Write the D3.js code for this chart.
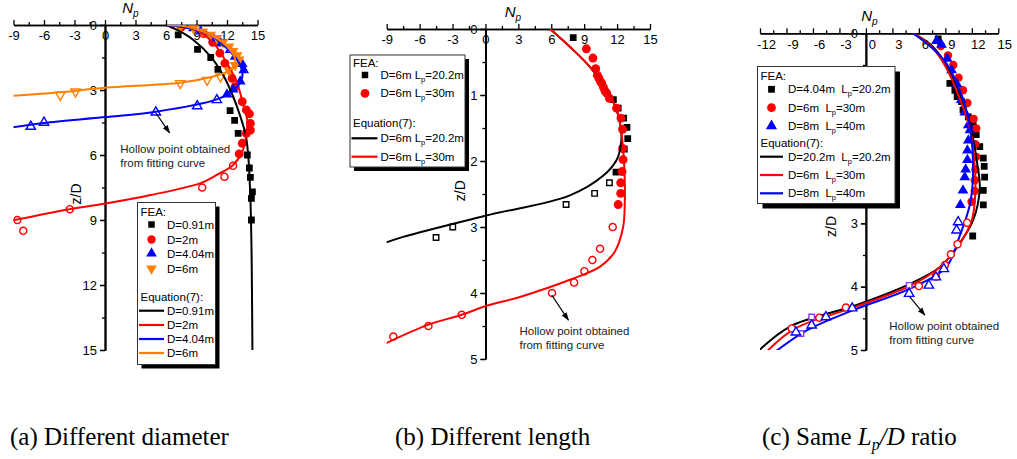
<!DOCTYPE html>
<html>
<head>
<meta charset="utf-8">
<script src="https://cdn.jsdelivr.net/npm/d3@7"></script>
<style>
  body { margin: 0; background: #fff; }
  svg { display: block; }
  text { font-family: "Liberation Sans", Arial, sans-serif; fill: #000; }
  .cap { font-family: "Liberation Serif", "Times New Roman", serif; }
</style>
</head>
<body>
<svg id="fig" width="1017" height="459"></svg>
<script>
// ---------------- Panel (a): different diameter ----------------
const aTicksX = [-9, -6, -3, 0, 3, 6, 9, 12, 15];
const aTicksY = [0, 3, 6, 9, 12, 15];
const aFeaD091 = [[7.2,0.46],[9.1,1.12],[10.4,1.5],[11.1,2.05],[12.3,3.95],[12.75,4.4],[13.1,5.0],[14.0,6.0],[14.2,6.6],[14.3,7.03],[14.5,7.7],[14.4,8.0],[14.4,9.0]];
const aFeaD2 = [[7.5,0.1],[9.7,0.4],[10.6,0.8],[11.3,1.3],[11.8,1.77],[12.5,2.46],[12.8,2.85],[13.5,3.54],[13.9,3.92],[14.2,4.1],[14.3,4.54],[14.3,4.85],[13.9,5.0],[13.5,5.46],[13.2,5.95]];
const aFitD2 = [[12.6,6.5],[11.75,7.0],[9.56,7.5],[-3.46,8.5],[-8.63,9.0],[-8.04,9.5]];
const aFeaD404 = [[8.7,0.15],[9.4,0.3],[10.7,0.62],[11.4,0.85],[12.3,1.15],[12.8,1.46],[13.5,1.8],[13.65,2.08],[13.3,2.6],[12.6,2.97],[12.0,3.2]];
const aFitD404 = [[11.0,3.46],[9.07,3.74],[5.0,4.03],[-6.0,4.5],[-7.3,4.69]];
const aFeaD6 = [[7.4,0.1],[8.7,0.15],[9.6,0.3],[10.4,0.45],[11.0,0.6],[11.6,0.8],[12.2,1.0],[12.6,1.2],[13.0,1.4],[13.2,1.6],[12.8,1.85],[12.2,2.1]];
const aFitD6 = [[11.36,2.38],[10.05,2.54],[7.4,2.69],[-2.9,3.08],[-4.4,3.23]];
const aEqD091 = [[6.0,0],[7.2,0.25],[8.7,0.69],[10.4,1.46],[11.7,2.38],[12.6,3.3],[13.3,4.2],[13.85,5.1],[14.1,6.1],[14.3,8.0],[14.4,10],[14.45,12],[14.5,15]];
const aEqD2 = [[6.1,0],[9.0,0.23],[10.7,0.85],[12.0,1.77],[13.0,2.69],[13.65,3.77],[14.0,4.4],[13.85,5.2],[13.5,5.85],[12.6,6.46],[11.0,6.92],[9.4,7.3],[4.5,7.85],[0.2,8.23],[-3.5,8.5],[-9.2,9.03]];
const aEqD404 = [[6.1,0],[10.05,0.38],[12.0,1.08],[13.3,1.85],[13.5,2.4],[12.7,3.0],[11.0,3.43],[5.0,4.0],[0,4.25],[-6.0,4.52],[-9.2,4.73]];
const aEqD6 = [[6.1,0],[8.1,0.08],[10.7,0.54],[12.3,1.15],[12.8,1.6],[12.3,2.08],[10.0,2.45],[7.4,2.66],[0,2.9],[-4.4,3.1],[-9.2,3.27]];

// ---------------- Panel (b): different length ----------------
const bTicksX = [-9, -6, -3, 0, 3, 6, 9, 12, 15];
const bTicksY = [0, 1, 2, 3, 4, 5];
const bFeaL202 = [[8.0,0.13],[11.66,1.07],[12.1,1.2],[12.6,1.35],[12.9,1.49],[12.97,1.66],[12.66,1.82],[11.9,2.17]];
const bFitL202 = [[11.3,2.33],[9.95,2.49],[7.35,2.66],[-2.98,3.0],[-4.5,3.16]];
const bFeaL30 = [[9.2,0.3],[9.8,0.44],[10.05,0.6],[10.2,0.7],[10.35,0.75],[10.5,0.8],[10.6,0.82],[10.75,0.88],[10.9,0.94],[11.06,0.97],[11.3,1.05],[11.95,1.2],[12.35,1.35],[12.5,1.52],[12.5,1.81],[12.55,1.98],[12.45,2.16],[12.33,2.33],[12.33,2.49],[12.1,2.66]];
const bFitL30 = [[11.6,3.0],[10.45,3.33],[9.75,3.5],[9.02,3.67],[8.08,3.84],[6.07,4.0],[-2.16,4.33],[-5.2,4.5],[-8.4,4.66]];
const bEqL202 = [[5.9,0],[7.7,0.27],[9.5,0.57],[11.06,0.92],[11.97,1.23],[12.4,1.6],[12.3,1.8],[11.97,1.98],[10.75,2.22],[7.7,2.52],[0,2.83],[-7.5,3.15],[-9.3,3.25]];
const bEqL30 = [[5.9,0],[7.7,0.27],[9.5,0.57],[11.06,0.92],[11.97,1.23],[12.4,1.58],[12.6,1.93],[12.7,2.3],[12.7,2.64],[12.55,3.0],[11.8,3.37],[10.45,3.6],[7.7,3.8],[3.15,4.06],[0,4.2],[-2.16,4.33],[-5.2,4.48],[-9.3,4.78]];

// ---------------- Panel (c): same Lp/D ratio ----------------
const cTicksX = [-12, -9, -6, -3, 0, 3, 6, 9, 12, 15];
const cTicksY = [0, 1, 2, 3, 4, 5];
const cLabelsY = [0, 3, 4, 5]; // 1 and 2 sit under the legend box
const cFeaD404 = [[8.19,0.09],[9.51,0.79],[10.08,0.9],[10.34,1.0],[10.84,1.08],[11.0,1.21],[11.6,1.32],[12.15,1.42],[12.5,1.6],[12.9,1.79],[13.3,1.97],[13.4,2.1],[13.45,2.27],[13.3,2.48],[13.3,2.71],[12.1,3.2]];
const cFitD404 = [[4.9,3.98],[-6.15,4.48],[-7.36,4.74]];
const cFeaD6 = [[8.5,0.2],[9.3,0.35],[9.9,0.5],[10.5,0.7],[11.0,0.9],[11.5,1.1],[12.2,1.35],[12.5,1.5],[12.4,1.75],[12.5,1.95],[12.4,2.15],[12.34,2.32],[12.34,2.49],[11.97,2.66]];
const cFitD6 = [[11.47,2.99],[10.38,3.33],[9.63,3.49],[8.95,3.66],[7.93,3.84],[6.0,3.99],[-2.27,4.33],[-5.28,4.49],[-8.4,4.66]];
const cFeaD8 = [[8.0,0.12],[8.57,0.18],[9.2,0.4],[9.7,0.58],[10.3,0.8],[10.8,1.05],[11.2,1.25],[11.6,1.45],[11.78,1.53],[11.6,1.69],[11.5,1.85],[11.5,2.0],[11.3,2.15],[11.2,2.27],[11.0,2.48],[10.7,2.71]];
const cFitD8 = [[10.45,2.98],[10.27,3.11],[8.83,3.72],[7.93,3.85],[7.13,3.98],[4.9,4.11],[-1.55,4.34],[-4.53,4.48],[-6.15,4.61],[-7.93,4.72]];
const cEqD404 = [[5.4,0],[7.5,0.2],[9.1,0.5],[10.7,1.0],[11.9,1.5],[12.6,2.05],[12.9,2.45],[12.15,2.95],[10.6,3.32],[8.4,3.69],[4.6,3.98],[-1.05,4.29],[-8.6,4.63],[-12.2,5.02]];
const cEqD6 = [[5.4,0],[7.5,0.22],[9.0,0.52],[10.6,1.02],[11.8,1.52],[12.3,2.05],[12.4,2.5],[12.0,2.95],[10.5,3.35],[8.3,3.7],[4.8,4.0],[-1.2,4.32],[-8.0,4.66],[-11.2,5.02]];
const cEqD8 = [[5.3,0],[7.4,0.22],[9.1,0.47],[10.9,1.0],[11.8,1.5],[12.15,2.16],[11.8,2.69],[10.6,3.21],[9.1,3.69],[5.0,4.03],[-1.44,4.37],[-6.7,4.69],[-10.2,5.02]];

const RED = "#ff0000", BLUE = "#0000ff", ORANGE = "#ff8000", PURPLE = "#8b3bf2";
const SP2 = "\u00a0\u00a0";

const svg = d3.select("#fig");
const defs = svg.append("defs");
defs.append("marker").attr("id", "arrowHead").attr("viewBox", "0 0 10 10")
  .attr("refX", 9).attr("refY", 5).attr("markerWidth", 7).attr("markerHeight", 7)
  .attr("orient", "auto-start-reverse")
  .append("path").attr("d", "M0,1.5L10,5L0,8.5Z").attr("fill", "#000");

const fmt = d => String(d);

function makePanel(o) {
  const x = d3.scaleLinear().domain(o.xDomain).range(o.xRange);
  const y = d3.scaleLinear().domain(o.yDomain).range(o.yRange);
  const g = svg.append("g");
  const clipId = "clip" + o.id;
  defs.append("clipPath").attr("id", clipId).append("rect")
    .attr("x", o.xRange[0]).attr("y", o.yRange[0])
    .attr("width", o.xRange[1] - o.xRange[0]).attr("height", o.yRange[1] - o.yRange[0]);

  // top axis: ticks point up, labels sit below the line
  const top = g.append("g").attr("transform", `translate(0,${o.yRange[0]})`);
  top.append("g").call(d3.axisBottom(x).tickValues(o.xMinor).tickSize(-3).tickSizeOuter(0).tickFormat(""));
  const topMajor = top.append("g").call(d3.axisBottom(x).tickValues(o.xTicks).tickSize(-5).tickSizeOuter(0).tickPadding(6).tickFormat(fmt));
  topMajor.selectAll("text").attr("dx", o.xLabelDx || 0);

  const left = g.append("g").attr("transform", `translate(${x(0)},0)`);
  left.append("g").call(d3.axisLeft(y).tickValues(o.yMinor).tickSize(3).tickSizeOuter(0).tickFormat(""));
  left.append("g").call(d3.axisLeft(y).tickValues(o.yTicks).tickSize(5).tickSizeOuter(0).tickFormat(""));
  left.append("g").call(d3.axisLeft(y).tickValues(o.yLabels || o.yTicks).tickSize(5).tickSizeOuter(0).tickPadding(3).tickFormat(fmt));

  g.selectAll(".domain").attr("stroke-width", 1.6);
  g.selectAll(".tick line").attr("stroke-width", 1.3);
  g.selectAll(".tick text").attr("font-size", 13).attr("font-family", "Liberation Sans, Arial, sans-serif");

  // axis titles
  const np = g.append("text").attr("x", x(o.npAt)).attr("y", o.yRange[0] - 12)
    .attr("font-size", 15).attr("font-style", "italic").attr("text-anchor", "middle");
  np.append("tspan").text("N");
  np.append("tspan").attr("font-size", 10).attr("dy", 4).text("p");
  g.append("text").attr("transform", `translate(${x(0) - o.zdDx},${y(o.zdAt)}) rotate(-90)`)
    .attr("font-size", 14).attr("text-anchor", "middle").text("z/D");

  const plot = g.append("g").attr("clip-path", `url(#${clipId})`);
  return { x, y, g, plot };
}

function symbolPath(type, size) {
  const t = { square: d3.symbolSquare, circle: d3.symbolCircle, up: d3.symbolTriangle, down: d3.symbolTriangle }[type];
  return d3.symbol().type(t).size(size)();
}

function drawMarks(p, data, type, color, hollow, size) {
  p.plot.append("g").selectAll("path").data(data).join("path")
    .attr("d", symbolPath(type, size))
    .attr("transform", d => `translate(${p.x(d[0])},${p.y(d[1])})${type === "down" ? " rotate(180)" : ""}`)
    .attr("fill", hollow ? "#fff" : color)
    .attr("stroke", hollow ? color : "none")
    .attr("stroke-width", hollow ? 1.4 : 0);
}

function drawCurve(p, data, color) {
  const line = d3.line().x(d => p.x(d[0])).y(d => p.y(d[1])).curve(d3.curveCatmullRom.alpha(0.5));
  p.plot.append("path").datum(data).attr("d", line)
    .attr("fill", "none").attr("stroke", color).attr("stroke-width", 2);
}

function annotate(p, from, to, textAt) {
  p.g.append("line")
    .attr("x1", p.x(from[0])).attr("y1", p.y(from[1]))
    .attr("x2", p.x(to[0])).attr("y2", p.y(to[1]))
    .attr("stroke", "#000").attr("stroke-width", 1.2).attr("marker-end", "url(#arrowHead)");
  const t = p.g.append("text").attr("font-size", 11.5).style("fill", "#222");
  t.append("tspan").attr("x", p.x(textAt[0])).attr("y", p.y(textAt[1])).text("Hollow point obtained");
  t.append("tspan").attr("x", p.x(textAt[0])).attr("dy", 14).text("from fitting curve");
}

function labelWithSub(sel, parts) {
  parts.forEach(([s, kind]) => {
    const ts = sel.append("tspan").text(s);
    if (kind === "sub") ts.attr("font-size", 7.5).attr("dy", 3);
    else if (kind === "after") ts.attr("dy", -3);
  });
}

function legend(box, rows) {
  const g = svg.append("g");
  g.append("rect").attr("x", box.x + box.sh).attr("y", box.y + box.sh)
    .attr("width", box.w).attr("height", box.h).attr("fill", "#000");
  g.append("rect").attr("x", box.x).attr("y", box.y).attr("width", box.w).attr("height", box.h)
    .attr("fill", "#fff").attr("stroke", "#333").attr("stroke-width", 1);
  rows.forEach(r => {
    if (r.kind === "head") {
      g.append("text").attr("x", box.x + 3).attr("y", r.y + 4).attr("font-size", 11.5).text(r.text);
      return;
    }
    if (r.kind === "sym") {
      g.append("path").attr("d", symbolPath(r.type, r.size))
        .attr("transform", `translate(${box.symX},${r.y})${r.type === "down" ? " rotate(180)" : ""}`)
        .attr("fill", r.color);
    } else {
      g.append("line").attr("x1", box.lineX[0]).attr("x2", box.lineX[1]).attr("y1", r.y).attr("y2", r.y)
        .attr("stroke", r.color).attr("stroke-width", 2.2);
    }
    const t = g.append("text").attr("x", box.textX).attr("y", r.y + 4).attr("font-size", 11.5);
    labelWithSub(t, r.label);
  });
}

// ---------- draw panel (a) ----------
const pa = makePanel({
  id: "a", xDomain: [-9, 15], xRange: [13.5, 257.5], yDomain: [0, 15], yRange: [25, 350],
  xTicks: aTicksX, xMinor: d3.range(-7.5, 15, 3), yTicks: aTicksY, yMinor: d3.range(1.5, 15, 3),
  npAt: 2.5, zdDx: 24, zdAt: 7.8
});
drawMarks(pa, aFeaD091, "square", "#000", false, 46);
drawMarks(pa, aFeaD2, "circle", RED, false, 62);
drawMarks(pa, aFitD2, "circle", RED, true, 40);
drawMarks(pa, aFeaD404, "up", BLUE, false, 50);
drawMarks(pa, aFitD404, "up", BLUE, true, 38);
drawMarks(pa, aFeaD6, "down", ORANGE, false, 50);
drawMarks(pa, aFitD6, "down", ORANGE, true, 38);
drawCurve(pa, aEqD091, "#000");
drawCurve(pa, aEqD2, RED);
drawCurve(pa, aEqD404, BLUE);
drawCurve(pa, aEqD6, ORANGE);
annotate(pa, [5.0, 4.06], [6.35, 4.98], [1.5, 5.9]);
legend({ x: 137.5, y: 202.5, w: 78, h: 162, sh: 4, symX: 151.5, textX: 167, lineX: [139, 164] }, [
  { kind: "head", y: 211.5, text: "FEA:" },
  { kind: "sym", y: 224.5, type: "square", size: 42, color: "#000", label: [["D=0.91m"]] },
  { kind: "sym", y: 239.5, type: "circle", size: 55, color: RED, label: [["D=2m"]] },
  { kind: "sym", y: 253.5, type: "up", size: 50, color: BLUE, label: [["D=4.04m"]] },
  { kind: "sym", y: 268.5, type: "down", size: 50, color: ORANGE, label: [["D=6m"]] },
  { kind: "head", y: 296.5, text: "Equation(7):" },
  { kind: "line", y: 310.7, color: "#000", label: [["D=0.91m"]] },
  { kind: "line", y: 325, color: RED, label: [["D=2m"]] },
  { kind: "line", y: 339, color: BLUE, label: [["D=4.04m"]] },
  { kind: "line", y: 353, color: ORANGE, label: [["D=6m"]] }
]);

// ---------- draw panel (b) ----------
const pb = makePanel({
  id: "b", xDomain: [-9, 15], xRange: [386.7, 650], yDomain: [0, 5], yRange: [29, 359],
  xTicks: bTicksX, xMinor: d3.range(-7.5, 15, 3), yTicks: bTicksY, yMinor: d3.range(0.5, 5, 1),
  npAt: 2.5, zdDx: 20, zdAt: 2.45
});
drawMarks(pb, bFeaL202, "square", "#000", false, 46);
drawMarks(pb, bFitL202, "square", "#000", true, 30);
drawMarks(pb, bFeaL30, "circle", RED, false, 62);
drawMarks(pb, bFitL30, "circle", RED, true, 40);
drawCurve(pb, bEqL202, "#000");
drawCurve(pb, bEqL30, RED);
annotate(pb, [6.04, 4.03], [7.56, 4.41], [3.1, 4.64]);
legend({ x: 350, y: 55, w: 115, h: 112, sh: 4, symX: 365, textX: 380.5, lineX: [351.5, 377.5] }, [
  { kind: "head", y: 63.3, text: "FEA:" },
  { kind: "sym", y: 75, type: "square", size: 42, color: "#000", label: [["D=6m L"], ["p", "sub"], ["=20.2m", "after"]] },
  { kind: "sym", y: 93.3, type: "circle", size: 60, color: RED, label: [["D=6m L"], ["p", "sub"], ["=30m", "after"]] },
  { kind: "head", y: 123.3, text: "Equation(7):" },
  { kind: "line", y: 138.3, color: "#000", label: [["D=6m L"], ["p", "sub"], ["=20.2m", "after"]] },
  { kind: "line", y: 156.7, color: RED, label: [["D=6m L"], ["p", "sub"], ["=30m", "after"]] }
]);

// ---------- draw panel (c) ----------
const pc = makePanel({
  id: "c", xDomain: [-12, 15], xRange: [760, 998.3], yDomain: [0, 5], yRange: [33.3, 350],
  xTicks: cTicksX, xMinor: d3.range(-10.5, 15, 3), yTicks: cTicksY, yLabels: cLabelsY, yMinor: d3.range(0.5, 5, 1),
  npAt: 0.4, zdDx: 30, zdAt: 3.05, xLabelDx: 6
});
drawMarks(pc, cFeaD404, "square", "#000", false, 46);
drawMarks(pc, cFeaD6, "circle", RED, false, 55);
drawMarks(pc, cFeaD8, "up", BLUE, false, 50);
drawCurve(pc, cEqD404, "#000");
drawCurve(pc, cEqD6, RED);
drawCurve(pc, cEqD8, BLUE);
drawMarks(pc, cFitD404, "square", PURPLE, true, 30);
drawMarks(pc, cFitD6, "circle", RED, true, 40);
drawMarks(pc, cFitD8, "up", BLUE, true, 38);
annotate(pc, [4.98, 4.16], [6.68, 4.45], [2.64, 4.68]);
legend({ x: 757.5, y: 66.5, w: 137.5, h: 137, sh: 5, symX: 771.5, textX: 788, lineX: [760, 783] }, [
  { kind: "head", y: 76, text: "FEA:" },
  { kind: "sym", y: 89.3, type: "square", size: 46, color: "#000", label: [["D=4.04m" + SP2 + "L"], ["p", "sub"], ["=20.2m", "after"]] },
  { kind: "sym", y: 107.7, type: "circle", size: 60, color: RED, label: [["D=6m" + SP2 + "L"], ["p", "sub"], ["=30m", "after"]] },
  { kind: "sym", y: 126, type: "up", size: 55, color: BLUE, label: [["D=8m" + SP2 + "L"], ["p", "sub"], ["=40m", "after"]] },
  { kind: "head", y: 143.3, text: "Equation(7):" },
  { kind: "line", y: 156.7, color: "#000", label: [["D=20.2m" + SP2 + "L"], ["p", "sub"], ["=20.2m", "after"]] },
  { kind: "line", y: 175, color: RED, label: [["D=6m" + SP2 + "L"], ["p", "sub"], ["=30m", "after"]] },
  { kind: "line", y: 193.3, color: BLUE, label: [["D=8m" + SP2 + "L"], ["p", "sub"], ["=40m", "after"]] }
]);

// ---------- sub-figure captions ----------
const capSize = 25;
svg.append("text").attr("class", "cap").attr("x", 10).attr("y", 445).attr("font-size", capSize).text("(a) Different diameter");
svg.append("text").attr("class", "cap").attr("x", 395).attr("y", 445).attr("font-size", capSize).text("(b) Different length");
const capC = svg.append("text").attr("class", "cap").attr("x", 762).attr("y", 445).attr("font-size", capSize);
capC.append("tspan").text("(c) Same ");
capC.append("tspan").attr("font-style", "italic").text("L");
capC.append("tspan").attr("font-style", "italic").attr("font-size", 16).attr("dy", 5).text("p");
capC.append("tspan").attr("font-style", "italic").attr("dy", -5).text("/D");
capC.append("tspan").text(" ratio");
</script>
</body>
</html>
